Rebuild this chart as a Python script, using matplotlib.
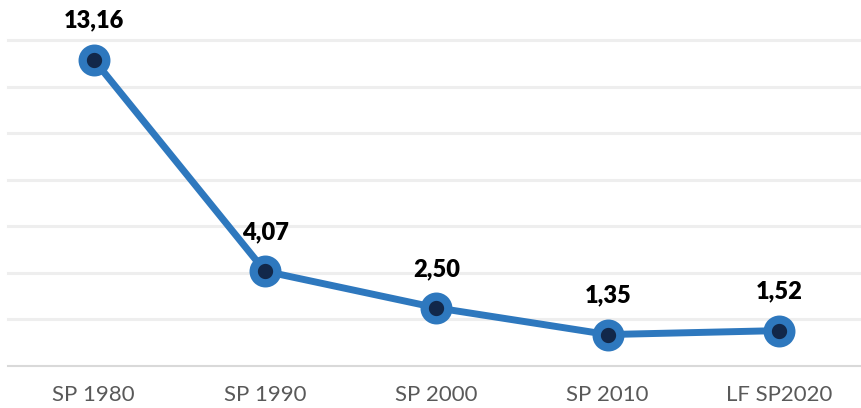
import matplotlib
matplotlib.use("Agg")
import matplotlib.pyplot as plt

categories = ["SP 1980", "SP 1990", "SP 2000", "SP 2010", "LF SP2020"]
values = [13.16, 4.07, 2.50, 1.35, 1.52]
labels = ["13,16", "4,07", "2,50", "1,35", "1,52"]

plt.rcParams['font.family'] = ['Lato', 'DejaVu Sans']

fig = plt.figure(figsize=(8.62, 4.08), dpi=100)
ax = fig.add_axes([8 / 862, 42 / 408, 1 - 8 / 862, 326 / 408])

x = list(range(len(categories)))
ax.plot(x, values, color="#2e78be", linewidth=5, marker="o",
        markersize=17, markerfacecolor="#12284a",
        markeredgecolor="#2e78be", markeredgewidth=6, zorder=3)

for xi, v, lab in zip(x, values, labels):
    ax.annotate(lab, (xi, v), xytext=(0, 28), textcoords="offset points",
                ha="center", va="center", fontsize=17, fontweight="heavy",
                color="black")

ax.set_xlim(-0.5, 4.484)
ax.set_ylim(0, 14)
ax.set_yticks(range(2, 15, 2))
ax.yaxis.grid(True, color="#eeeeee", linewidth=2.2, clip_on=False)
ax.set_axisbelow(True)
ax.tick_params(axis="y", left=False, labelleft=False)
ax.set_xticks(x)
ax.set_xticklabels(categories, fontsize=16, color="#595959")
ax.tick_params(axis="x", length=0, pad=14)

for s in ["top", "right", "left"]:
    ax.spines[s].set_visible(False)
ax.spines["bottom"].set_color("#d9d9d9")
ax.spines["bottom"].set_linewidth(1.5)

fig.savefig("out.png", dpi=100)
